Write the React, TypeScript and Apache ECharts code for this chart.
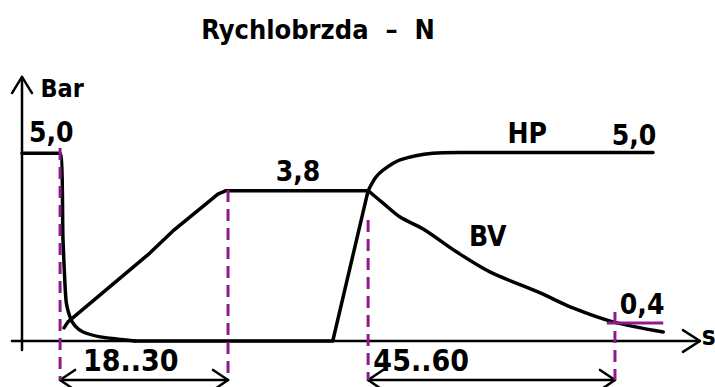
import React, { useEffect, useRef } from "react";
import * as echarts from "echarts";

// Time axis in arbitrary units (~seconds), pressure in bar (drawn positions)
const dropCurve = [[0, 5.0], [5.6, 5.0], [6.03, 2.69], [6.47, 1.09], [7.06, 0.64], [7.8, 0.4], [8.97, 0.24], [11.5, 0.11], [14.1, 0.05], [16.6, 0]];
const baseRise = [[16.6, 0], [45.7, 0], [50.9, 4.0]];
const fillRamp = [[6.18, 0.35], [6.76, 0.51], [18.8, 2.34], [22.2, 2.93], [27.2, 3.67], [28.8, 3.91], [30.0, 4.0], [50.9, 4.0]];
const hpCurve = [[50.9, 4.0], [52.0, 4.35], [53.1, 4.55], [55.6, 4.82], [60.4, 5.0], [64.4, 5.02], [92.8, 5.02]];
const bvCurve = [[50.9, 4.0], [53.1, 3.67], [55.6, 3.3], [59.0, 2.98], [64.0, 2.36], [68.8, 1.84], [76.2, 1.28], [81.0, 0.88], [86.9, 0.51], [94.3, 0.24]];

const dashedMarks = [
  [[5.6, 5.14], [5.6, -1.04]],
  [[30.3, 4.02], [30.3, -1.04]],
  [[50.9, 3.22], [50.9, -1.04]],
  [[87.2, 0.77], [87.2, -1.04]],
  [[86.0, 0.48], [94.3, 0.48]],
];

const dimLines = [
  [[5.6, -1.04], [30.3, -1.04]],
  [[50.9, -1.04], [87.2, -1.04]],
];

const axisLines = [
  [[0, 7.03], [0, -0.24]],
  [[-1.47, 0], [99.7, 0]],
];
const arrowHeads = [
  [[-1.47, 6.6], [0, 7.03], [1.47, 6.6]],
  [[97.2, 0.29], [99.7, 0], [97.2, -0.29]],
  [[7.8, -0.77], [5.6, -1.04], [7.8, -1.31]],
  [[28.1, -0.77], [30.3, -1.04], [28.1, -1.31]],
  [[53.1, -0.77], [50.9, -1.04], [53.1, -1.31]],
  [[85.0, -0.77], [87.2, -1.04], [85.0, -1.31]],
];

const labelTexts = ["Bar", "5,0", "3,8", "HP", "5,0", "BV", "0,4", "s", "18..30", "45..60"];
const labelPos = [[5.9, 6.73], [4.3, 5.54], [40.6, 4.5], [74.3, 5.51], [90.0, 5.48], [68.5, 2.79], [91.2, 0.96], [101.0, 0.12], [16.0, -0.53], [58.7, -0.53]];
const labelSizes = [25, 28, 28, 28, 28, 28, 28, 26, 30, 30];
const titleText = "Rychlobrzda  –  N";

const FONT = "'DejaVu Sans Condensed', 'Liberation Sans Narrow', 'Roboto', sans-serif";
const PX_X = 6.8;
const PX_Y = 37.57;
const X_MIN = -2, X_MAX = 100, Y_MIN = -1.2, Y_MAX = 7.2;
const ORIGIN_X = 22, ORIGIN_Y = 341;

export default function App() {
  const ref = useRef<HTMLDivElement>(null);
  useEffect(() => {
    if (!ref.current) return;
    const chart = echarts.init(ref.current, undefined, { renderer: "svg" });
    const left = ORIGIN_X + X_MIN * PX_X;
    const width = (X_MAX - X_MIN) * PX_X;
    const top = ORIGIN_Y - Y_MAX * PX_Y;
    const height = (Y_MAX - Y_MIN) * PX_Y;
    const black = (name: string, data: number[][], smooth: number | boolean = false, w = 3.5) => ({
      name, type: "line", data, smooth, symbol: "none", clip: false,
      lineStyle: { color: "#000", width: w, cap: "round", join: "round" },
      z: 3,
    });
    const series: any[] = [];
    axisLines.forEach((d, i) => series.push(black("axis" + i, d, false, 2.5)));
    arrowHeads.forEach((d, i) => series.push(black("arrow" + i, d, false, 2.5)));
    dimLines.forEach((d, i) => series.push(black("dim" + i, d, false, 2.5)));
    series.push(black("drop", dropCurve, 0.2));
    series.push(black("base", baseRise, false));
    series.push(black("ramp", fillRamp, false));
    series.push(black("HP", hpCurve, 0.3));
    series.push(black("BV", bvCurve, 0.3));
    dashedMarks.forEach((d, i) => series.push({
      name: "dash" + i, type: "line", data: d, symbol: "none", clip: false,
      lineStyle: { color: "#8e1a8e", width: 3, type: i === 4 ? "solid" : [12, 7] },
      z: 4,
    }));
    series.push({
      name: "labels", type: "scatter", clip: false, symbolSize: 1,
      itemStyle: { color: "rgba(0,0,0,0)", opacity: 1 },
      data: labelPos.map((p, i) => ({
        value: [p[0], p[1]],
        label: {
          show: true, position: "inside", formatter: labelTexts[i],
          fontSize: labelSizes[i], fontFamily: FONT, fontWeight: "bold", color: "#000",
          align: "center", verticalAlign: "middle", opacity: 1,
        },
      })),
      z: 5,
    });
    chart.setOption({
      animation: false,
      backgroundColor: "#fff",
      grid: { left, top, width, height },
      xAxis: { type: "value", min: X_MIN, max: X_MAX, show: false },
      yAxis: { type: "value", min: Y_MIN, max: Y_MAX, show: false },
      graphic: [{
        type: "text", x: 318, y: 29,
        style: { text: titleText, fontSize: 27, fontWeight: "bold", fontFamily: FONT, fill: "#000", align: "center", verticalAlign: "middle" },
      }],
      series,
    });
    return () => chart.dispose();
  }, []);
  return <div ref={ref} style={{ position: "fixed", left: 0, top: 0, width: 715, height: 387 }} />;
}
